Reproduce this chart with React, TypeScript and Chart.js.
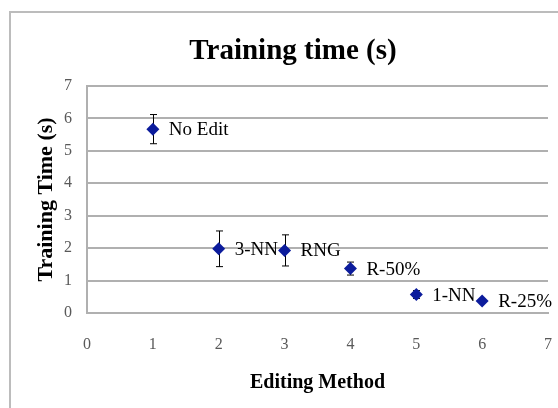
import React, { useEffect, useRef } from "react";
import { Chart, registerables } from "chart.js";

Chart.register(...registerables);

const methods = ["No Edit", "3-NN", "RNG", "R-50%", "1-NN", "R-25%"];
const positions = [1, 2, 3, 4, 5, 6];
const times = [5.67, 1.98, 1.93, 1.37, 0.57, 0.37];
const errors = [0.45, 0.55, 0.48, 0.2, 0.12, 0.05];
const xTicks = [0, 1, 2, 3, 4, 5, 6, 7];
const yTicks = [0, 1, 2, 3, 4, 5, 6, 7];

const SERIF = "'Liberation Serif', 'DejaVu Serif', serif";
const MARKER = "#0c1c9c";
const GRID = "#b0b0b0";

const framePlugin = {
  id: "frame",
  beforeDraw(chart: any) {
    const ctx = chart.ctx;
    ctx.save();
    ctx.fillStyle = "#ffffff";
    ctx.fillRect(0, 0, chart.width, chart.height);
    ctx.strokeStyle = "#bcbcbc";
    ctx.lineWidth = 2;
    ctx.strokeRect(10, 12, 700, 600);
    ctx.fillStyle = "#000000";
    ctx.font = `bold 29px ${SERIF}`;
    ctx.textAlign = "center";
    ctx.textBaseline = "alphabetic";
    ctx.fillText("Training time (s)", 293, 59);
    ctx.restore();
  },
};

const errorBarPlugin = {
  id: "errorBars",
  beforeDatasetsDraw(chart: any) {
    const ctx = chart.ctx;
    const xs = chart.scales.x;
    const ys = chart.scales.y;
    ctx.save();
    ctx.strokeStyle = "#000000";
    ctx.lineWidth = 1;
    times.forEach((v, i) => {
      const px = Math.round(xs.getPixelForValue(positions[i])) + 0.5;
      const top = ys.getPixelForValue(v + errors[i]);
      const bot = ys.getPixelForValue(v - errors[i]);
      ctx.beginPath();
      ctx.moveTo(px, top);
      ctx.lineTo(px, bot);
      ctx.moveTo(px - 3.5, top);
      ctx.lineTo(px + 3.5, top);
      ctx.moveTo(px - 3.5, bot);
      ctx.lineTo(px + 3.5, bot);
      ctx.stroke();
    });
    ctx.restore();
  },
};

const labelPlugin = {
  id: "pointLabels",
  afterDatasetsDraw(chart: any) {
    const ctx = chart.ctx;
    const xs = chart.scales.x;
    const ys = chart.scales.y;
    ctx.save();
    ctx.fillStyle = "#000000";
    ctx.font = `19px ${SERIF}`;
    ctx.textAlign = "left";
    ctx.textBaseline = "middle";
    methods.forEach((m, i) => {
      const px = xs.getPixelForValue(positions[i]);
      const py = ys.getPixelForValue(times[i]);
      ctx.fillText(m, px + 16, py + 1);
    });
    ctx.restore();
  },
};

export default function App() {
  const canvasRef = useRef<HTMLCanvasElement | null>(null);

  useEffect(() => {
    if (!canvasRef.current) return;
    const chart = new Chart(canvasRef.current, {
      type: "scatter",
      data: {
        datasets: [
          {
            label: "Training time",
            data: positions.map((x, i) => ({ x, y: times[i] })),
            pointStyle: "rectRot",
            pointRadius: 6.5,
            pointHoverRadius: 6.5,
            backgroundColor: MARKER,
            borderColor: MARKER,
            borderWidth: 0,
            showLine: false,
          },
        ],
      },
      options: {
        animation: false,
        responsive: false,
        devicePixelRatio: 1,
        layout: { padding: { top: 86, right: 10, bottom: 0, left: 0 } },
        plugins: {
          legend: { display: false },
          title: { display: false },
          tooltip: { enabled: false },
        },
        scales: {
          x: {
            type: "linear",
            min: xTicks[0],
            max: xTicks[xTicks.length - 1],
            afterBuildTicks: (s: any) => {
              s.ticks = xTicks.map((v) => ({ value: v }));
            },
            afterFit: (s: any) => {
              s.height = 95;
            },
            grid: {
              display: true,
              drawOnChartArea: false,
              drawTicks: true,
              tickLength: 22,
              tickColor: "rgba(0,0,0,0)",
              color: "rgba(0,0,0,0)",
            },
            border: { display: true, color: GRID, width: 2 },
            ticks: {
              padding: 0,
              color: "#595959",
              font: { family: SERIF, size: 16 },
            },
            title: {
              display: true,
              text: "Editing Method",
              color: "#000000",
              font: { family: SERIF, size: 20, weight: "bold" },
              padding: { top: 0, bottom: 13 },
            },
          },
          y: {
            type: "linear",
            min: yTicks[0],
            max: yTicks[yTicks.length - 1],
            afterBuildTicks: (s: any) => {
              s.ticks = yTicks.map((v) => ({ value: v }));
            },
            afterFit: (s: any) => {
              s.width = 87;
            },
            grid: { display: true, color: GRID, lineWidth: 2, drawTicks: false },
            border: { display: true, color: GRID, width: 2 },
            ticks: {
              padding: 15,
              color: "#595959",
              font: { family: SERIF, size: 16 },
            },
            title: {
              display: true,
              text: "Training Time (s)",
              color: "#000000",
              font: { family: SERIF, size: 22, weight: "bold" },
              padding: { top: 33, bottom: 0 },
            },
          },
        },
      },
      plugins: [framePlugin, errorBarPlugin, labelPlugin],
    });
    return () => chart.destroy();
  }, []);

  return (
    <div style={{ position: "fixed", left: 0, top: 0, width: 558, height: 408, overflow: "hidden" }}>
      <canvas ref={canvasRef} width={558} height={408} style={{ display: "block" }} />
    </div>
  );
}
